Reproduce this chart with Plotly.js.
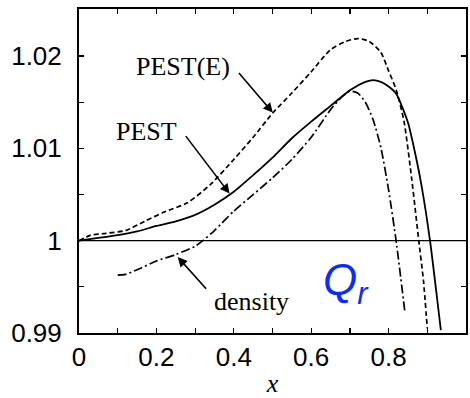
<!DOCTYPE html>
<html>
<head>
<meta charset="utf-8">
<script src="https://cdn.plot.ly/plotly-3.0.1.min.js"></script>
<style>html,body{margin:0;padding:0;background:#fff;}#chart{width:470px;height:398px;}</style>
</head>
<body>
<div id="chart"></div>
<script>
// PEST(E) curve (short dashes)
var pestEX = [0, 0.03, 0.07, 0.12, 0.17, 0.22, 0.28, 0.34, 0.40, 0.45, 0.50, 0.55, 0.60, 0.65, 0.69, 0.72, 0.75, 0.78, 0.80, 0.82, 0.84, 0.86, 0.878, 0.89, 0.90];
var pestEY = [1.0, 1.0006, 1.0008, 1.0011, 1.0021, 1.0031, 1.0041, 1.0061, 1.0088, 1.0112, 1.0138, 1.0160, 1.0183, 1.0207, 1.0216, 1.0219, 1.0216, 1.0204, 1.0184, 1.0163, 1.0129, 1.0066, 1.0, 0.9957, 0.9905];
// PEST curve (solid)
var pestX = [0, 0.05, 0.1, 0.15, 0.2, 0.25, 0.3, 0.35, 0.4, 0.45, 0.5, 0.55, 0.6, 0.65, 0.7, 0.74, 0.76, 0.78, 0.80, 0.82, 0.85, 0.87, 0.885, 0.907, 0.935];
var pestY = [1.0, 1.0003, 1.0006, 1.001, 1.0016, 1.0021, 1.0028, 1.0039, 1.0053, 1.0071, 1.009, 1.0111, 1.0129, 1.0146, 1.0163, 1.0172, 1.0174, 1.0172, 1.0167, 1.0159, 1.0128, 1.0092, 1.006, 1.0, 0.9903];
// density curve (dash-dot)
var densX = [0.1, 0.12, 0.15, 0.2, 0.25, 0.3, 0.32, 0.35, 0.4, 0.45, 0.5, 0.55, 0.6, 0.65, 0.68, 0.70, 0.72, 0.74, 0.76, 0.78, 0.80, 0.82, 0.842];
var densY = [0.99627, 0.99635, 0.99685, 0.9978, 0.9985, 0.9994, 1.0000, 1.0011, 1.0032, 1.005, 1.0068, 1.0088, 1.0112, 1.0142, 1.0156, 1.0162, 1.016, 1.015, 1.0131, 1.0101, 1.0055, 0.9998, 0.9923];
// tick labels
var xTickVals = [0, 0.2, 0.4, 0.6, 0.8, 1];
var xTickText = ['0', '0.2', '0.4', '0.6', '0.8', '1'];
var yTickVals = [0.99, 1, 1.01, 1.02];
var yTickText = ['0.99', '1', '1.01', '1.02'];

var traces = [
  {x: pestEX, y: pestEY, mode: 'lines', line: {color: '#000', width: 1.7, dash: '5px,3px', shape: 'spline', smoothing: 0.6}, showlegend: false, hoverinfo: 'skip'},
  {x: pestX, y: pestY, mode: 'lines', line: {color: '#000', width: 1.8, shape: 'spline', smoothing: 0.6}, showlegend: false, hoverinfo: 'skip'},
  {x: densX, y: densY, mode: 'lines', line: {color: '#000', width: 1.7, dash: '9px,3px,2px,3px', shape: 'spline', smoothing: 0.6}, showlegend: false, hoverinfo: 'skip'}
];

var serif = 'Liberation Serif, Times New Roman, serif';
var sans = 'Liberation Sans, Arial, sans-serif';

var layout = {
  width: 470, height: 398,
  margin: {l: 79, r: 4, t: 9, b: 65},
  paper_bgcolor: '#fff', plot_bgcolor: '#fff',
  xaxis: {
    range: [0, 1], showgrid: false, zeroline: false,
    showline: true, linecolor: '#000', linewidth: 2, mirror: 'ticks',
    ticks: 'inside', ticklen: 5, tickwidth: 1.2, tickcolor: '#000',
    tickvals: xTickVals, ticktext: xTickText,
    minor: {dtick: 0.1, tick0: 0, ticks: 'inside', ticklen: 5, tickwidth: 1.2, tickcolor: '#000', showgrid: false},
    tickfont: {family: sans, size: 26, color: '#000'},
    title: {text: '<i>x</i>', font: {family: serif, size: 26, color: '#000'}, standoff: 8}
  },
  yaxis: {
    range: [0.99, 1.0251], showgrid: false, zeroline: false,
    showline: true, linecolor: '#000', linewidth: 2, mirror: 'ticks',
    ticks: 'inside', ticklen: 5, tickwidth: 1.2, tickcolor: '#000',
    tickvals: yTickVals, ticktext: yTickText,
    minor: {dtick: 0.005, tick0: 0.99, ticks: 'inside', ticklen: 5, tickwidth: 1.2, tickcolor: '#000', showgrid: false},
    tickfont: {family: sans, size: 26, color: '#000'},
    ticklabelstandoff: 10
  },
  shapes: [
    {type: 'line', xref: 'paper', yref: 'y', x0: 0, x1: 1, y0: 1, y1: 1, line: {color: '#000', width: 1.2}}
  ],
  annotations: [
    {x: 0.268, y: 1.0189, xref: 'x', yref: 'y', text: 'PEST(E)', showarrow: false, font: {family: serif, size: 26, color: '#000'}},
    {x: 0.175, y: 1.0118, xref: 'x', yref: 'y', text: 'PEST', showarrow: false, font: {family: serif, size: 26, color: '#000'}},
    {x: 0.445, y: 0.99345, xref: 'x', yref: 'y', text: 'density', showarrow: false, font: {family: serif, size: 26, color: '#000'}},
    {x: 0.69, y: 0.9954, xref: 'x', yref: 'y', text: '<i>Q<sub>r</sub></i>', showarrow: false, font: {family: sans, size: 44, color: '#0a2cff'}},
    {x: 0.5007, y: 1.01388, ax: 0.410, ay: 1.01833, xref: 'x', yref: 'y', axref: 'x', ayref: 'y', text: '', showarrow: true, arrowhead: 2, arrowsize: 1.2, arrowwidth: 1.6, arrowcolor: '#000'},
    {x: 0.389, y: 1.0051, ax: 0.273, ay: 1.01149, xref: 'x', yref: 'y', axref: 'x', ayref: 'y', text: '', showarrow: true, arrowhead: 2, arrowsize: 1.2, arrowwidth: 1.6, arrowcolor: '#000'},
    {x: 0.255, y: 0.99823, ax: 0.332, ay: 0.99464, xref: 'x', yref: 'y', axref: 'x', ayref: 'y', text: '', showarrow: true, arrowhead: 2, arrowsize: 1.2, arrowwidth: 1.6, arrowcolor: '#000'}
  ]
};

Plotly.newPlot('chart', traces, layout, {displayModeBar: false, staticPlot: true});
</script>
</body>
</html>
